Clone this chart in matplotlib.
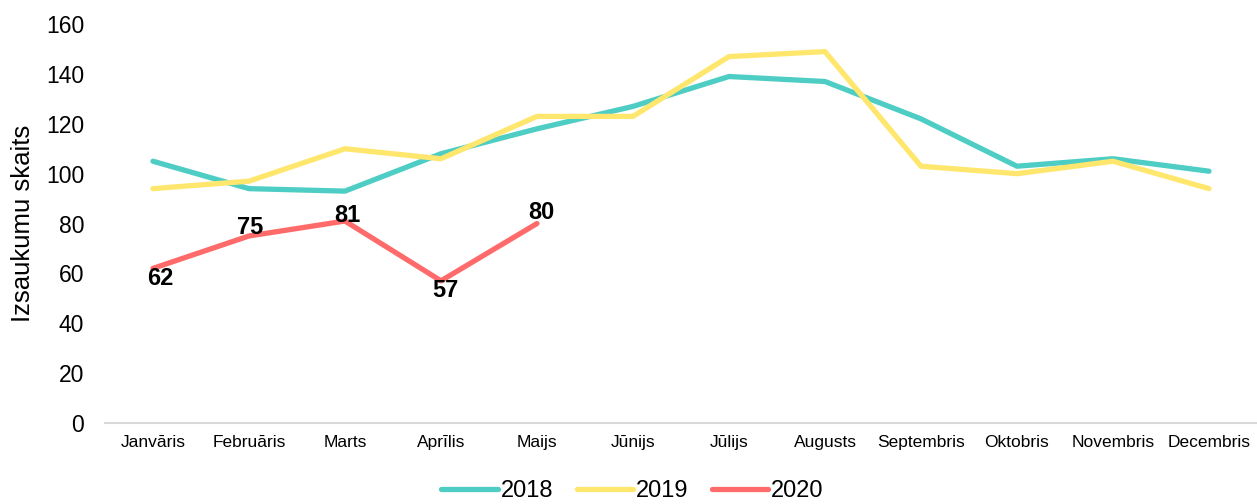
import matplotlib
matplotlib.use("Agg")
import matplotlib.pyplot as plt

months = ["Janvāris", "Februāris", "Marts", "Aprīlis", "Maijs", "Jūnijs",
          "Jūlijs", "Augusts", "Septembris", "Oktobris", "Novembris", "Decembris"]
v2018 = [105, 94, 93, 108, 118, 127, 139, 137, 122, 103, 106, 101]
v2019 = [94, 97, 110, 106, 123, 123, 147, 149, 103, 100, 105, 94]
v2020 = [62, 75, 81, 57, 80]
yticks = [0, 20, 40, 60, 80, 100, 120, 140, 160]

# label offsets (points) for 2020 data labels
label_offsets = [(5, -7), (1, 6), (2, 4), (3, -7), (3, 8)]

plt.rcParams['font.family'] = ['Liberation Sans', 'DejaVu Sans']

fig = plt.figure(figsize=(12.57, 5.04), dpi=100)
ax = fig.add_axes([0.0835, 0.161, 0.9165, 0.791])

x = list(range(len(months)))
lw = 3.8
l1, = ax.plot(x, v2018, color="#4ECDC4", lw=lw, solid_capstyle="round", label="2018")
l2, = ax.plot(x, v2019, color="#FFE66D", lw=lw, solid_capstyle="round", label="2019")
l3, = ax.plot(x[:len(v2020)], v2020, color="#FF6B6B", lw=lw, solid_capstyle="round", label="2020")

for i, (v, off) in enumerate(zip(v2020, label_offsets)):
    ax.annotate(str(v), (i, v), xytext=off, textcoords="offset points",
                ha="center", va="center", fontsize=17, fontweight="bold", color="black")

ax.set_xlim(-0.5, len(months) - 0.5)
ax.set_ylim(0, 160)
ax.set_yticks(yticks)
ax.set_xticks(x)
ax.set_xticklabels(months, fontsize=12.5)
ax.tick_params(axis="y", labelsize=16.5, length=0, pad=15)
ax.tick_params(axis="x", length=0, pad=9)
for s in ["top", "right", "left"]:
    ax.spines[s].set_visible(False)
ax.spines["bottom"].set_color("#d9d9d9")
ax.spines["bottom"].set_linewidth(1.5)
ax.set_ylabel("Izsaukumu skaits", fontsize=18.5, labelpad=8)

fig.legend(handles=[l1, l2, l3], loc="center", bbox_to_anchor=(0.503, 0.025),
           ncol=3, frameon=False, fontsize=17, handlelength=2.4, handletextpad=0.1,
           columnspacing=1.0, borderaxespad=0)

fig.savefig("out.png", dpi=100)
